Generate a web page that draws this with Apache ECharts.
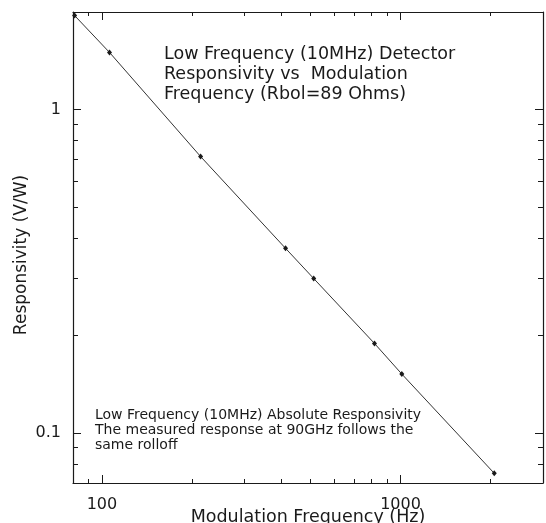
<!DOCTYPE html>
<html>
<head>
<meta charset="utf-8">
<script src="https://cdn.jsdelivr.net/npm/echarts@6/dist/echarts.min.js"></script>
<style>
html,body{margin:0;padding:0;background:#fff;}
#chart{width:546px;height:523px;}
</style>
</head>
<body>
<div id="chart"></div>
<script>
// Data (log-log)
const frequencyHz = [81, 106, 214, 412, 512, 818, 1010, 2060];
const responsivity = [1.95, 1.5, 0.715, 0.372, 0.30, 0.189, 0.152, 0.075];

const xMajorTicks = [100, 1000];
const xMinorTicks = [90, 200, 300, 400, 500, 600, 700, 800, 900, 2000];
const yMajorTicks = [0.1, 1];
const yMinorTicks = [0.08, 0.09, 0.2, 0.3, 0.4, 0.5, 0.6, 0.7, 0.8, 0.9];

const titleLines = ['Low Frequency (10MHz) Detector', 'Responsivity vs  Modulation', 'Frequency (Rbol=89 Ohms)'];
const noteLines = ['Low Frequency (10MHz) Absolute Responsivity', 'The measured response at 90GHz follows the', 'same rolloff'];

const FONT = 'DejaVu Sans';
const INK = '#1a1a1a';

function axisBase(min, max, position, show) {
  return {
    type: 'log', logBase: 10, min: min, max: max, position: position,
    axisLine: { show: show, lineStyle: { color: INK, width: 1.2 } },
    splitLine: { show: false },
    minorTick: { show: false },
    minorSplitLine: { show: false }
  };
}
function tickAxis(min, max, position, showLine, values, len, labels, extra) {
  const a = axisBase(min, max, position, showLine);
  a.axisTick = { show: true, inside: true, length: len, customValues: values, lineStyle: { color: INK, width: 1 } };
  a.axisLabel = labels ? Object.assign({ show: true, customValues: values, color: INK, fontFamily: FONT, fontSize: 16,
    formatter: function (v) { return String(v); } }, labels) : { show: false };
  return Object.assign(a, extra || {});
}

const chart = echarts.init(document.getElementById('chart'), null, { renderer: 'canvas' });
chart.setOption({
  backgroundColor: '#fff',
  animation: false,
  grid: { left: 73, right: 3, top: 12, bottom: 40, containLabel: false, outerBoundsMode: 'none' },
  xAxis: [
    tickAxis(80, 3000, 'bottom', true, xMajorTicks, 8, { margin: 14 }, {
      name: 'Modulation Frequency (Hz)', nameLocation: 'middle', nameGap: 25, nameMoveOverlap: false,
      nameTextStyle: { color: INK, fontFamily: FONT, fontSize: 17.5 }
    }),
    tickAxis(80, 3000, 'bottom', false, xMinorTicks, 4, null),
    tickAxis(80, 3000, 'top', true, xMajorTicks, 8, null),
    tickAxis(80, 3000, 'top', false, xMinorTicks, 4, null)
  ],
  yAxis: [
    tickAxis(0.07, 2, 'left', true, yMajorTicks, 8, { margin: 12 }),
    tickAxis(0.07, 2, 'left', false, yMinorTicks, 5, null),
    tickAxis(0.07, 2, 'right', true, yMajorTicks, 8, null),
    tickAxis(0.07, 2, 'right', false, yMinorTicks, 5, null)
  ],
  graphic: [
    { type: 'text', left: 164, top: 44, silent: true,
      style: { text: titleLines.join('\n'), font: '17.5px "' + FONT + '"', fill: INK, lineHeight: 20 } },
    { type: 'text', left: 95, top: 408, silent: true,
      style: { text: noteLines.join('\n'), font: '14px "' + FONT + '"', fill: INK, lineHeight: 15 } },
    { type: 'text', x: 22, y: 255, rotation: Math.PI / 2, silent: true,
      style: { text: 'Responsivity (V/W)', font: '17px "' + FONT + '"', fill: INK, align: 'center', verticalAlign: 'middle' } }
  ],
  series: [{
    type: 'line',
    xAxisIndex: 0, yAxisIndex: 0,
    data: frequencyHz.map((f, i) => [f, responsivity[i]]),
    clip: false,
    symbol: 'diamond', symbolSize: [5, 6],
    itemStyle: { color: INK },
    lineStyle: { color: '#333', width: 1 }
  }]
});
</script>
</body>
</html>
